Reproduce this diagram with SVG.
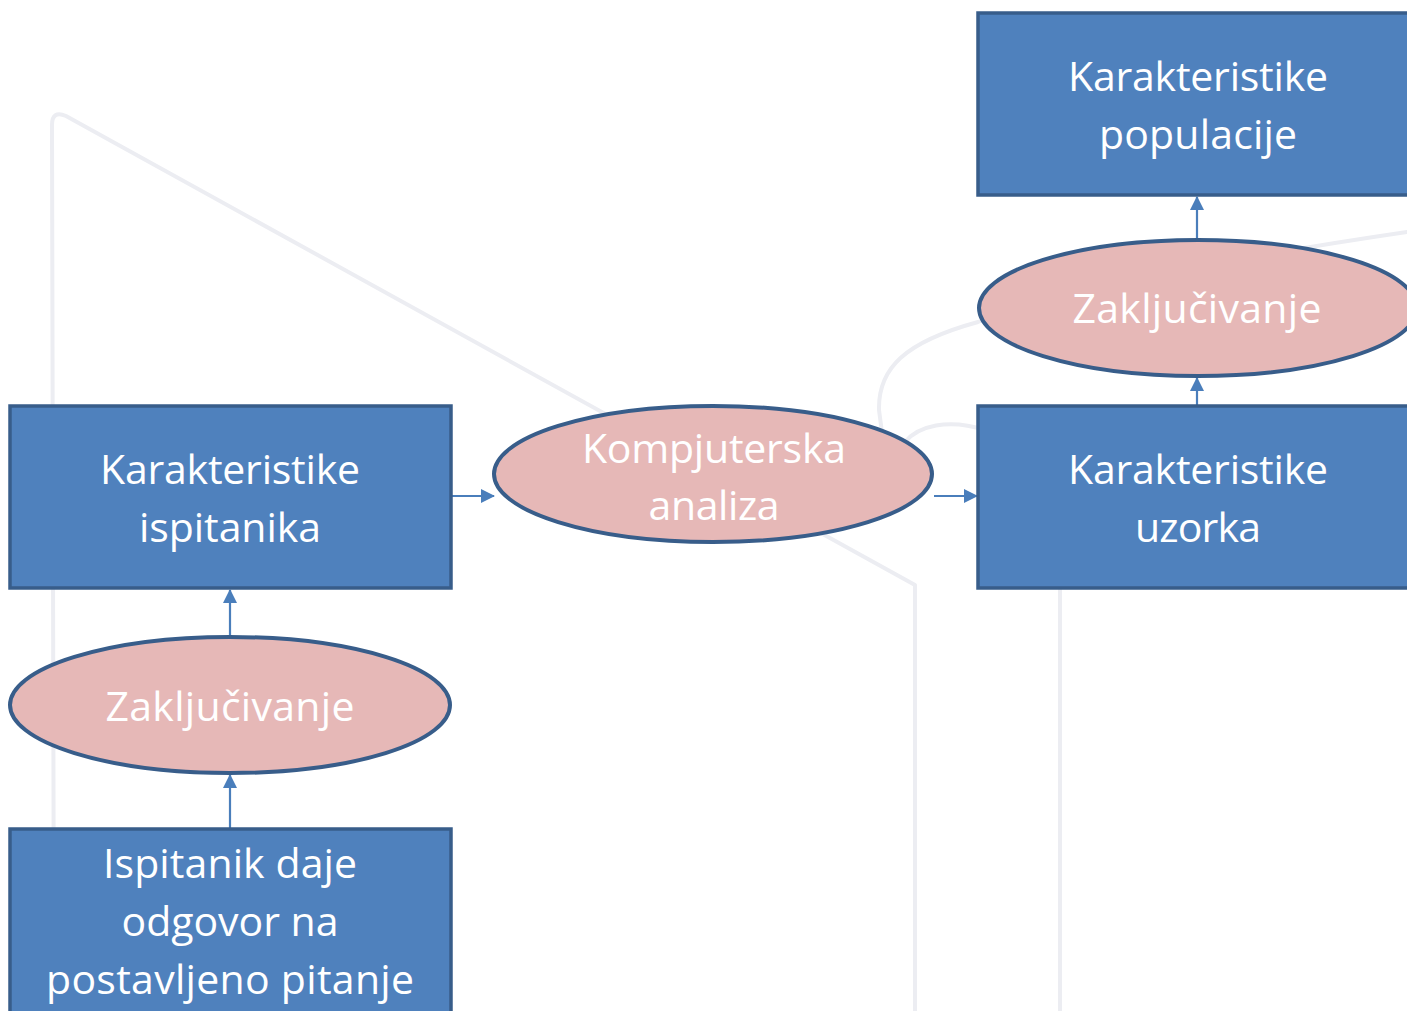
<svg xmlns="http://www.w3.org/2000/svg" width="1407" height="1011" viewBox="0 0 1407 1011">
<style>
.box{fill:#4F81BD;stroke:#385D8A;stroke-width:3.5}
.ell{fill:#E6B8B7;stroke:#385D8A;stroke-width:4}
.t{fill:#FFFFFF;font-family:"Open Sans","Noto Sans","Liberation Sans",sans-serif;font-size:41px;text-anchor:middle}
.wm{fill:none;stroke:#ECEDF2;stroke-width:4;stroke-linecap:round;stroke-linejoin:round}
.c{stroke:#4A7EBB;stroke-width:2.2;fill:none}
</style>
<defs>
<marker id="ah" viewBox="0 0 14 14" refX="13" refY="7" markerWidth="14" markerHeight="14" markerUnits="userSpaceOnUse" orient="auto">
<path d="M0,0 L14,7 L0,14 Z" fill="#4A7EBB"/>
</marker>
</defs>
<rect width="1407" height="1011" fill="#FFFFFF"/>
<g id="watermark">
<path class="wm" d="M54,1011 L52,125 Q52,110 66,116 L915,585 L915,1011"/>
<path class="wm" d="M1060,590 L1060,1011"/>
<path class="wm" d="M1407,232 C1250,255 1060,290 978,322 C905,342 878,368 879,410 L883,440"/>
<path class="wm" d="M905,442 C918,426 948,418 985,430"/>
</g>
<g id="connectors">
<line class="c" x1="1197" y1="240" x2="1197" y2="197" marker-end="url(#ah)"/>
<line class="c" x1="1197" y1="405" x2="1197" y2="378" marker-end="url(#ah)"/>
<line class="c" x1="230" y1="637" x2="230" y2="590" marker-end="url(#ah)"/>
<line class="c" x1="230" y1="828" x2="230" y2="775" marker-end="url(#ah)"/>
<line class="c" x1="452" y1="496" x2="494" y2="496" marker-end="url(#ah)"/>
<line class="c" x1="934" y1="496" x2="977" y2="496" marker-end="url(#ah)"/>
</g>
<g id="node-populacija">
<rect class="box" x="978" y="13" width="440" height="182"/>
<text class="t" x="1198" y="91" textLength="260">Karakteristike</text>
<text class="t" x="1198" y="149" textLength="198">populacije</text>
</g>
<g id="node-zakljucivanje-desno">
<ellipse class="ell" cx="1198" cy="308" rx="219" ry="68"/>
<text class="t" x="1197" y="323" textLength="249">Zaključivanje</text>
</g>
<g id="node-uzorak">
<rect class="box" x="978" y="406" width="440" height="182"/>
<text class="t" x="1198" y="484" textLength="260">Karakteristike</text>
<text class="t" x="1198" y="542" textLength="126">uzorka</text>
</g>
<g id="node-ispitanik">
<rect class="box" x="10" y="406" width="441" height="182"/>
<text class="t" x="230" y="484" textLength="260">Karakteristike</text>
<text class="t" x="230" y="542" textLength="182">ispitanika</text>
</g>
<g id="node-kompjuterska">
<ellipse class="ell" cx="713" cy="474" rx="219" ry="68"/>
<text class="t" x="714" y="463" textLength="264">Kompjuterska</text>
<text class="t" x="714" y="520" textLength="131">analiza</text>
</g>
<g id="node-zakljucivanje-lijevo">
<ellipse class="ell" cx="230" cy="705" rx="220" ry="68"/>
<text class="t" x="230" y="721" textLength="249">Zaključivanje</text>
</g>
<g id="node-odgovor">
<rect class="box" x="10" y="829" width="441" height="200"/>
<text class="t" x="230" y="878" textLength="254">Ispitanik daje</text>
<text class="t" x="230" y="936" textLength="217">odgovor na</text>
<text class="t" x="230" y="994" textLength="368">postavljeno pitanje</text>
</g>
</svg>
